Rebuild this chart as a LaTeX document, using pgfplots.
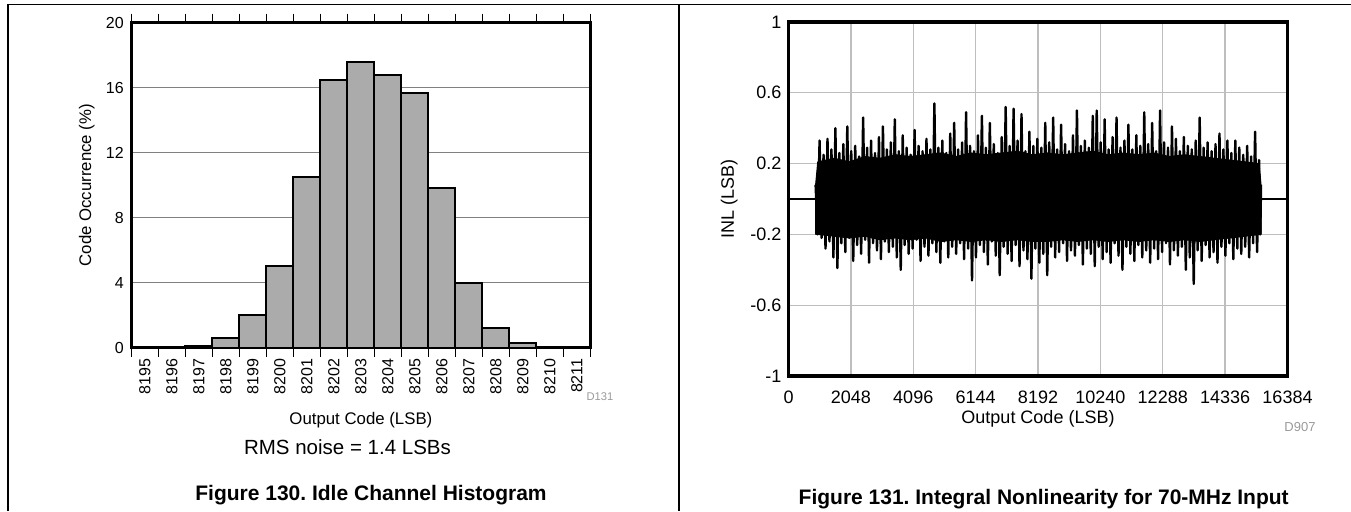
\documentclass[border=0pt]{standalone}
\usepackage{fontspec}
\setmainfont{Liberation Sans}
\usepackage{pgfplots}
\pgfplotsset{compat=1.18}
\definecolor{barfill}{HTML}{ABABAB}
\definecolor{gridL}{HTML}{808080}
\definecolor{gridR}{HTML}{BEBEBE}
\definecolor{dnum}{HTML}{9A9A9A}
\pgfplotsset{/pgf/number format/1000 sep={}, /pgf/number format/assume math mode=true}
\frenchspacing

\begin{document}
\begin{tikzpicture}[x=1pt,y=1pt]
\path[use as bounding box] (0,0) rectangle (1351,511);
% page frame
\draw[line width=1.8pt] (8,0) -- (8,506.5) -- (1351,506.5);
\draw[line width=1.8pt] (679.3,0) -- (679.3,506.5);

% Figure 130: idle channel histogram
\begin{axis}[
    at={(131.4pt,163.3pt)}, anchor=south west, scale only axis,
    width=459pt, height=325pt,
    xmin=8194.5, xmax=8211.5, ymin=0, ymax=20,
    scaled ticks=false,
    xtick={8195,...,8211},
    minor xtick={8194.5,8195.5,8196.5,8197.5,8198.5,8199.5,8200.5,8201.5,8202.5,8203.5,8204.5,8205.5,8206.5,8207.5,8208.5,8209.5,8210.5,8211.5},
    ytick={0,4,8,12,16,20},
    major tick length=0pt, minor tick length=9pt,
    tick align=outside,
    minor tick style={black, line width=1.2pt},
    ymajorgrids, grid style={draw=gridL, line width=1.3pt},
    axis line style={line width=2.7pt},
    tick label style={font=\fontsize{16}{19}\selectfont},
    xticklabel style={rotate=90, anchor=east, inner sep=0pt},
    xticklabel shift=10.6pt,
    yticklabel style={anchor=east, inner sep=0pt},
    yticklabel shift=7.5pt,
    xlabel={Output Code (LSB)}, ylabel={Code Occurrence (\%)},
    label style={font=\fontsize{16.8}{19}\selectfont},
    xlabel style={at={(axis description cs:0.5,-0.2225)}, anchor=center},
    ylabel style={at={(axis description cs:-0.0972,0.5)}, anchor=center},
]
\addplot[ybar, bar width=1, fill=barfill, draw=black, line width=2pt]
    coordinates {(8195,0)(8196,0.04)(8197,0.1)(8198,0.6)(8199,2.0)(8200,5.0)
    (8201,10.5)(8202,16.45)(8203,17.6)(8204,16.8)(8205,15.65)(8206,9.8)
    (8207,4.0)(8208,1.2)(8209,0.3)(8210,0.04)(8211,0)};
\end{axis}

\node[text=dnum, font=\fontsize{11.2}{13}\selectfont] at (600,114) {D131};
\node[anchor=base, font=\fontsize{20.5}{24}\selectfont] at (347.5,56) {RMS noise = 1.4 LSBs};
\node[anchor=base, font=\fontsize{21}{25}\selectfont\bfseries] at (371,10) {Figure 130. Idle Channel Histogram};

% Figure 131: INL
\begin{axis}[
    at={(788.5pt,135pt)}, anchor=south west, scale only axis,
    width=499pt, height=354pt,
    xmin=0, xmax=16384, ymin=-1, ymax=1,
    scaled ticks=false,
    xtick={0,2048,4096,6144,8192,10240,12288,14336,16384},
    ytick={-1,-0.6,-0.2,0.2,0.6,1},
    major tick length=0pt,
    grid=major, grid style={draw=gridR, line width=1.3pt},
    axis line style={line width=3.2pt},
    tick label style={font=\fontsize{18}{21}\selectfont},
    xticklabel style={anchor=north, inner sep=0pt},
    xticklabel shift=15pt,
    yticklabel style={anchor=east, inner sep=0pt},
    yticklabel shift=7pt,
    xlabel={Output Code (LSB)}, ylabel={INL (LSB)},
    label style={font=\fontsize{18}{21}\selectfont},
    xlabel style={at={(axis description cs:0.5,-0.1223)}, anchor=center},
    ylabel style={at={(axis description cs:-0.1188,0.5)}, anchor=center},
]
\addplot[black, line width=2pt] coordinates {(0,0)(16384,0)};
% dense core of the INL trace (upper edge, then lower edge back)
\addplot[fill=black, draw=black, line width=1pt, line join=round] coordinates {
(890,-0.20)(890,0.08)(960,0.21)(1500,0.23)(2000,0.21)(2500,0.24)(3000,0.23)(3500,0.25)
(4000,0.24)(4500,0.25)(5000,0.26)(5500,0.24)(6000,0.26)(6500,0.25)(7000,0.26)(7500,0.27)
(8000,0.25)(8500,0.26)(9000,0.25)(9500,0.26)(10000,0.27)(10500,0.25)(11000,0.26)(11500,0.25)
(12000,0.26)(12500,0.24)(13000,0.25)(13500,0.24)(14000,0.23)(14500,0.22)(15000,0.21)(15450,0.20)(15515,0.08)
(15515,-0.20)(15000,-0.21)(14500,-0.22)(14000,-0.23)(13500,-0.24)(13000,-0.23)(12500,-0.24)(12000,-0.23)
(11500,-0.24)(11000,-0.23)(10500,-0.24)(10000,-0.23)(9500,-0.24)(9000,-0.23)(8500,-0.24)(8000,-0.24)
(7500,-0.23)(7000,-0.24)(6500,-0.23)(6000,-0.24)(5500,-0.23)(5000,-0.24)(4500,-0.22)(4000,-0.23)
(3500,-0.22)(3000,-0.23)(2500,-0.21)(2000,-0.22)(1500,-0.21)(960,-0.20)(890,-0.20)
};
% spikes of the INL trace
\addplot[black, line width=2.4pt, line join=round] coordinates {
(890,0.08)(955,-0.20)(1020,0.33)(1085,-0.22)(1150,0.25)(1215,-0.28)(1280,0.34)(1345,-0.24)(1410,0.28)(1475,-0.33)
(1540,0.40)(1605,-0.39)(1670,0.26)(1735,-0.25)(1800,0.31)(1865,-0.30)(1930,0.41)(1995,-0.22)(2060,0.27)(2125,-0.35)
(2190,0.30)(2255,-0.26)(2320,0.24)(2385,-0.31)(2450,0.46)(2515,-0.23)(2580,0.29)(2645,-0.36)(2710,0.33)(2775,-0.25)
(2840,0.26)(2905,-0.29)(2970,0.35)(3035,-0.34)(3100,0.41)(3165,-0.24)(3230,0.28)(3295,-0.30)(3360,0.32)(3425,-0.27)
(3490,0.45)(3555,-0.33)(3620,0.27)(3685,-0.40)(3750,0.36)(3815,-0.26)(3880,0.29)(3945,-0.31)(4010,0.25)(4075,-0.28)
(4140,0.39)(4205,-0.23)(4270,0.30)(4335,-0.35)(4400,0.27)(4465,-0.27)(4530,0.34)(4595,-0.32)(4660,0.28)(4725,-0.25)
(4790,0.54)(4855,-0.30)(4920,0.29)(4985,-0.36)(5050,0.33)(5115,-0.24)(5180,0.26)(5245,-0.33)(5310,0.37)(5375,-0.27)
(5440,0.43)(5505,-0.31)(5570,0.28)(5635,-0.25)(5700,0.32)(5765,-0.34)(5830,0.49)(5895,-0.28)(5960,0.30)(6025,-0.46)
(6090,0.27)(6155,-0.33)(6220,0.36)(6285,-0.26)(6350,0.47)(6415,-0.30)(6480,0.29)(6545,-0.37)(6610,0.43)(6675,-0.24)
(6740,0.31)(6805,-0.32)(6870,0.26)(6935,-0.43)(7000,0.35)(7065,-0.27)(7130,0.52)(7195,-0.31)(7260,0.30)(7325,-0.35)
(7390,0.51)(7455,-0.26)(7520,0.33)(7585,-0.38)(7650,0.48)(7715,-0.29)(7780,0.27)(7845,-0.34)(7910,0.38)(7975,-0.45)
(8040,0.30)(8105,-0.28)(8170,0.34)(8235,-0.36)(8300,0.29)(8365,-0.31)(8430,0.43)(8495,-0.43)(8560,0.32)(8625,-0.27)
(8690,0.46)(8755,-0.33)(8820,0.28)(8885,-0.30)(8950,0.42)(9015,-0.25)(9080,0.31)(9145,-0.35)(9210,0.27)(9275,-0.29)
(9340,0.36)(9405,-0.32)(9470,0.50)(9535,-0.26)(9600,0.30)(9665,-0.37)(9730,0.33)(9795,-0.28)(9860,0.29)(9925,-0.31)
(9990,0.47)(10055,-0.38)(10120,0.50)(10185,-0.27)(10250,0.32)(10315,-0.34)(10380,0.45)(10445,-0.30)(10510,0.28)(10575,-0.36)
(10640,0.35)(10705,-0.25)(10770,0.46)(10835,-0.32)(10900,0.29)(10965,-0.40)(11030,0.33)(11095,-0.27)(11160,0.42)(11225,-0.31)
(11290,0.28)(11355,-0.35)(11420,0.36)(11485,-0.26)(11550,0.30)(11615,-0.33)(11680,0.49)(11745,-0.29)(11810,0.31)(11875,-0.36)
(11940,0.43)(12005,-0.28)(12070,0.27)(12135,-0.34)(12200,0.50)(12265,-0.30)(12330,0.32)(12395,-0.25)(12460,0.29)(12525,-0.37)
(12590,0.41)(12655,-0.29)(12720,0.34)(12785,-0.32)(12850,0.27)(12915,-0.27)(12980,0.35)(13045,-0.40)(13110,0.30)(13175,-0.33)
(13240,0.28)(13305,-0.48)(13370,0.33)(13435,-0.29)(13500,0.46)(13565,-0.35)(13630,0.29)(13695,-0.26)(13760,0.32)(13825,-0.33)
(13890,0.27)(13955,-0.30)(14020,0.31)(14085,-0.36)(14150,0.37)(14215,-0.27)(14280,0.28)(14345,-0.32)(14410,0.33)(14475,-0.25)
(14540,0.26)(14605,-0.34)(14670,0.33)(14735,-0.28)(14800,0.29)(14865,-0.31)(14930,0.25)(14995,-0.27)(15060,0.30)(15125,-0.33)
(15190,0.24)(15255,-0.25)(15320,0.38)(15385,-0.30)(15450,0.22)(15490,-0.20)(15515,0.08)
};
\end{axis}

\node[text=dnum, font=\fontsize{13}{15}\selectfont] at (1300,84.3) {D907};
\node[anchor=base, font=\fontsize{21}{25}\selectfont\bfseries] at (1043.7,6) {Figure 131. Integral Nonlinearity for 70-MHz Input};
\end{tikzpicture}
\end{document}
